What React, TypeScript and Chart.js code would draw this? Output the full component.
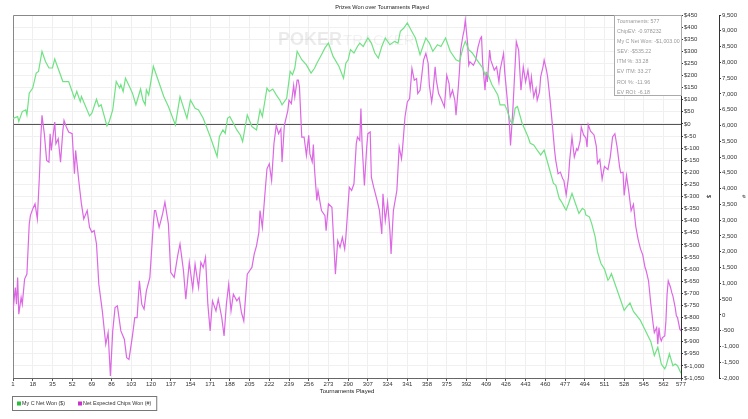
import { useEffect, useRef } from "react";
import { Chart, registerables } from "chart.js";

Chart.register(...registerables);

const chartTitle = "Prizes Won over Tournaments Played";
const xTitle = "Tournaments Played";
const xTickValues = [1, 18, 35, 52, 69, 86, 103, 120, 137, 154, 171, 188, 205, 222, 239, 256, 273, 290, 307, 324, 341, 358, 375, 392, 409, 426, 443, 460, 477, 494, 511, 528, 545, 562, 577];

const seriesNames = ["My C Net Won ($)", "Net Expected Chips Won (#)"];

const netWonT = [1,5,6,9,12,13,15,18,21,23,26,29,32,35,37,44,49,54,56,59,60,67,69,73,75,77,82,84,87,90,93,94,96,98,102,104,107,111,113,115,116,118,122,127,131,135,141,145,151,154,158,161,165,171,177,179,182,184,186,188,191,194,197,199,203,207,211,214,216,220,222,225,228,231,233,237,240,242,244,246,250,254,258,261,263,267,270,273,277,282,286,288,290,292,295,298,300,303,307,310,313,316,319,322,326,330,333,335,338,341,344,348,352,357,360,363,367,370,374,378,383,386,389,391,394,397,400,403,406,408,410,414,419,421,425,427,430,432,434,436,440,445,447,450,453,456,459,463,467,469,472,474,477,478,480,483,486,489,492,494,495,498,500,503,505,508,511,514,515,517,521,525,528,530,533,536,542,547,551,554,557,560,563,564,567,570,572,574,577];
const netWonV = [23,30,10,51,58,37,127,148,210,217,300,258,231,231,268,175,175,106,134,92,113,33,44,102,72,79,-8,10,58,175,148,162,134,189,148,127,79,144,99,79,141,120,238,169,113,72,-4,113,23,99,65,58,23,-52,-135,-52,-25,-39,23,30,3,-25,-46,-73,37,-11,-25,58,30,148,134,144,120,99,79,106,217,203,231,300,265,244,210,230,251,286,314,334,279,238,189,251,265,307,293,320,334,320,355,334,293,272,320,355,327,341,334,383,396,417,390,355,286,355,334,300,327,320,355,300,265,258,314,341,307,293,272,251,231,203,210,162,120,79,79,58,10,3,65,72,3,-52,-80,-87,-108,-128,-108,-177,-246,-253,-308,-322,-349,-356,-330,-287,-329,-370,-349,-356,-377,-384,-412,-467,-529,-577,-600,-646,-640,-619,-674,-729,-771,-757,-740,-775,-812,-861,-900,-957,-923,-992,-1012,-1003,-950,-999,-992,-999,-1030];

const chipsT = [1,3,4,5,6,8,9,11,13,15,16,18,20,22,24,25,26,28,30,32,33,34,37,38,40,42,44,45,47,49,52,54,55,58,60,62,65,67,69,71,73,75,78,81,83,85,87,89,91,94,97,99,101,104,106,108,110,112,114,116,119,122,123,124,127,130,132,135,137,140,143,145,148,150,153,156,158,161,163,165,167,169,171,173,176,178,181,183,185,187,189,191,194,196,198,200,203,205,207,209,211,213,214,216,218,220,222,224,226,228,230,232,233,235,238,239,241,243,244,246,247,248,250,252,254,256,257,259,260,261,263,264,267,270,271,273,276,279,281,283,285,287,288,289,291,293,295,297,298,300,301,302,304,306,307,309,310,312,315,317,319,320,322,324,326,327,329,332,334,336,337,339,341,343,345,347,349,350,352,355,357,359,360,362,363,365,366,368,370,373,375,377,378,380,382,383,385,386,387,389,390,391,393,394,395,398,400,402,404,405,406,408,409,410,412,413,416,418,420,421,424,425,427,429,430,432,433,435,437,439,441,443,445,447,448,450,452,453,455,456,458,459,461,462,464,466,468,469,471,473,475,476,478,480,481,483,485,487,488,490,491,493,495,496,497,499,502,504,505,507,509,511,514,516,518,520,522,524,525,527,528,530,532,534,536,538,540,542,544,546,547,549,551,553,554,556,557,558,559,560,561,563,564,565,566,568,569,570,572,573,574,576,577];
const chipsV = [127,868,339,1186,21,551,339,1133,1292,2880,3145,3357,3516,3039,4575,5634,6322,5740,4893,4840,5740,5210,6110,5422,5581,4840,5846,6163,5951,5793,5740,4469,5210,4152,3516,3039,3304,2774,2615,2669,2245,974,127,-932,-561,-1938,-508,233,286,-508,-773,-1356,-1409,-667,-85,-85,1080,339,180,762,1186,2880,3304,3304,2774,3198,3569,2880,1345,1186,1874,2245,1398,498,1663,815,1610,868,1663,1504,1821,339,-508,445,127,498,-85,-667,339,974,127,657,445,551,74,-191,1292,1398,1504,1927,2192,2615,3304,2774,3728,4628,4787,4257,5422,6005,5740,5899,4840,6005,6481,6799,6693,7275,6905,7434,7434,7222,5634,5634,5051,5687,5100,4850,5400,4600,3622,3939,3304,3145,2669,3516,3410,1292,2351,2139,2457,2086,2457,2986,4045,3939,4152,5422,5634,5528,6534,5422,4099,5316,5740,5793,4363,4045,3622,3304,2563,3834,2986,3569,2669,1927,3304,3939,5316,4946,5316,6269,6746,6852,7805,7434,7487,7011,7116,8070,8282,7964,7275,6746,7011,7858,7434,7011,6852,6587,7593,7328,6905,7116,6799,6322,7222,7752,8400,8850,9023,9340,8599,7911,8017,7911,8070,8493,8758,8811,7964,7116,7699,7381,8387,8070,7752,7858,7381,7752,8282,7699,6905,6058,5369,6481,7222,8652,8387,7116,7858,7381,7752,7170,7540,6905,7170,6799,7063,7540,7858,8070,7752,7540,6852,6058,5210,4893,4469,4522,4310,4257,3800,4363,4893,5634,5000,5263,5210,5500,5950,5700,5600,5316,6030,5820,5700,5340,4800,4920,4300,4700,4600,5000,5634,5740,5300,4700,4500,4520,3781,4416,3900,3300,3500,2800,2400,2100,1900,1500,1398,1080,339,-296,-561,-402,-932,-402,-720,-826,-720,-667,-191,657,1080,868,710,604,233,-32,-85,-455,-508];

const infoLines = [
  "Tournaments: 577",
  "ChipEV: -0.978232",
  "My C Net Won: -$1,003.00",
  "SEV: -$535.22",
  "ITM %: 33.28",
  "EV ITM: 33.27",
  "ROI %: -11.96",
  "EV ROI: -6.18",
];

const FONT = '"Liberation Sans", Arial, sans-serif';
const lineColors = ["rgb(112,226,132)", "rgb(220,104,228)"];
const legendColors = ["rgb(40,190,60)", "rgb(200,50,200)"];

const decor = {
  id: "decor",
  beforeDatasetsDraw(chart: any) {
    const { ctx, chartArea: a, scales } = chart;
    ctx.save();
    ctx.textBaseline = "alphabetic";
    ctx.textAlign = "left";
    ctx.font = `bold 18px ${FONT}`;
    ctx.fillStyle = "rgba(0,0,0,0.08)";
    ctx.fillText("POKER", 278, 45);
    ctx.font = `15px ${FONT}`;
    ctx.fillStyle = "rgba(0,0,0,0.05)";
    ctx.fillText("TRACKER", 343, 45);
    const y0 = Math.round(scales.y.getPixelForValue(0)) + 0.5;
    ctx.strokeStyle = "#555";
    ctx.lineWidth = 1;
    ctx.beginPath();
    ctx.moveTo(a.left, y0);
    ctx.lineTo(a.right, y0);
    ctx.stroke();
    ctx.strokeStyle = "#888";
    ctx.beginPath();
    ctx.moveTo(Math.round(a.left) + 0.5, a.bottom);
    ctx.lineTo(Math.round(a.left) + 0.5, Math.round(a.top) + 0.5);
    ctx.lineTo(a.right, Math.round(a.top) + 0.5);
    ctx.stroke();
    ctx.restore();
  },
  afterDatasetsDraw(chart: any) {
    const { ctx, chartArea: a } = chart;
    ctx.save();
    const w = 67, h = 80;
    const bx = Math.round(a.right - w) + 0.5, by = Math.round(a.top) + 0.5;
    ctx.fillStyle = "#fff";
    ctx.fillRect(bx, by, w, h);
    ctx.strokeStyle = "#aaa";
    ctx.lineWidth = 1;
    ctx.strokeRect(bx, by, w, h);
    ctx.font = `5.3px ${FONT}`;
    ctx.fillStyle = "#999";
    ctx.textBaseline = "middle";
    ctx.textAlign = "left";
    infoLines.forEach((t, i) => ctx.fillText(t, bx + 2.5, by + 6 + i * 10.1));
    ctx.restore();
  },
  afterDraw(chart: any) {
    const { ctx } = chart;
    ctx.save();
    ctx.font = `5.6px ${FONT}`;
    ctx.fillStyle = "#222";
    ctx.textAlign = "center";
    ctx.textBaseline = "middle";
    ctx.fillText(chartTitle, 382, 7.5);
    ctx.textAlign = "left";
    ctx.font = `5.4px ${FONT}`;
    let x = 17;
    const items: { x: number; w: number }[] = [];
    chart.data.datasets.forEach((ds: any) => {
      const tw = ctx.measureText(ds.label).width;
      items.push({ x, w: tw });
      x += 5 + tw + 13;
    });
    const last = items[items.length - 1];
    const boxRight = last.x + 5 + last.w + 5;
    ctx.strokeStyle = "#777";
    ctx.lineWidth = 1;
    ctx.strokeRect(12.5, 396.5, boxRight - 12, 14);
    chart.data.datasets.forEach((ds: any, i: number) => {
      ctx.fillStyle = legendColors[i];
      ctx.fillRect(items[i].x, 401.5, 4, 4);
      ctx.fillStyle = "#333";
      ctx.fillText(ds.label, items[i].x + 5, 403.8);
    });
    ctx.restore();
  },
};

export default function App() {
  const ref = useRef<HTMLCanvasElement>(null);
  useEffect(() => {
    if (!ref.current) return;
    Chart.defaults.font.family = FONT;
    const tickFont = { size: 6, family: FONT };
    const chart = new Chart(ref.current, {
      type: "line",
      data: {
        datasets: [
          {
            label: seriesNames[0],
            data: netWonT.map((t, i) => ({ x: t, y: netWonV[i] })),
            yAxisID: "y",
            borderColor: lineColors[0],
            borderWidth: 1.2,
            pointRadius: 0,
            tension: 0,
          },
          {
            label: seriesNames[1],
            data: chipsT.map((t, i) => ({ x: t, y: chipsV[i] })),
            yAxisID: "y1",
            borderColor: lineColors[1],
            borderWidth: 1.2,
            pointRadius: 0,
            tension: 0,
          },
        ],
      },
      options: {
        responsive: false,
        animation: false,
        layout: { padding: { left: 13, top: 15, bottom: 21, right: 0 } },
        plugins: { legend: { display: false }, title: { display: false }, tooltip: { enabled: false } },
        scales: {
          x: {
            type: "linear",
            min: 1,
            max: 577,
            afterBuildTicks: (s: any) => {
              s.ticks = xTickValues.map((v) => ({ value: v }));
            },
            afterFit: (s: any) => {
              s.height = 20;
            },
            ticks: { autoSkip: false, maxRotation: 0, font: tickFont, color: "#333", padding: 0, callback: (v: any) => String(v) },
            grid: { color: "#efefef", tickColor: "#555", tickLength: 3 },
            border: { color: "#666" },
            title: { display: true, text: xTitle, font: tickFont, color: "#222", padding: { top: 0, bottom: 3 } },
          },
          y: {
            position: "right",
            min: -1050,
            max: 450,
            afterFit: (s: any) => {
              s.width = 38;
            },
            ticks: {
              stepSize: 50,
              autoSkip: false,
              font: tickFont,
              color: "#333",
              padding: 1,
              callback: (v: any) => "$" + Number(v).toLocaleString("en-US"),
            },
            grid: { color: "#f0f0f0", tickColor: "#333", tickLength: 2 },
            border: { color: "#333" },
            title: { display: true, text: "$", font: tickFont, color: "#222", padding: { top: 7, bottom: 0 } },
          },
          y1: {
            position: "right",
            min: -2000,
            max: 9500,
            afterFit: (s: any) => {
              s.width = 29;
            },
            ticks: {
              stepSize: 500,
              autoSkip: false,
              font: tickFont,
              color: "#333",
              padding: 1,
              callback: (v: any) => Number(v).toLocaleString("en-US"),
            },
            grid: { drawOnChartArea: false, tickColor: "#333", tickLength: 2 },
            border: { color: "#333" },
            title: { display: true, text: "#", font: tickFont, color: "#222", padding: { top: 1, bottom: 0 } },
          },
        },
      } as any,
      plugins: [decor],
    });
    return () => chart.destroy();
  }, []);
  return (
    <div style={{ position: "fixed", left: 0, top: 0, width: 748, height: 419, background: "#fff" }}>
      <canvas ref={ref} width={748} height={419} />
    </div>
  );
}
